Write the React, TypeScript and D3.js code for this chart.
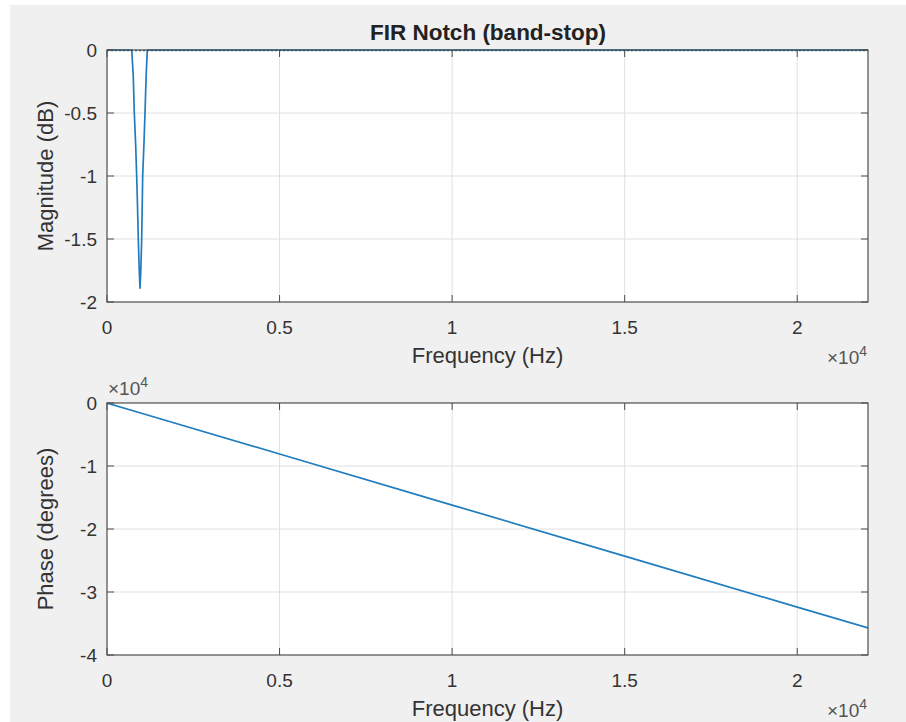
import React from "react";
import * as d3 from "d3";

// Magnitude response (frequency Hz, dB)
const magFreq = [0, 300, 600, 716, 760, 791, 830, 860, 885, 907, 935, 956, 980, 1005, 1034, 1070, 1101, 1135, 1168, 1300, 3000, 8000, 15000, 22050];
const magDb = [0, 0, 0, 0, -0.2, -0.5, -0.75, -1.0, -1.25, -1.5, -1.75, -1.89, -1.75, -1.5, -1.0, -0.75, -0.5, -0.2, 0, 0, 0, 0, 0, 0];

// Phase response (frequency Hz, degrees)
const phaseFreq = [0, 1000, 5000, 10000, 15000, 20000, 22050];
const phaseDeg = [0, -1620, -8100, -16200, -24300, -32400, -35700];

const xTicks = [0, 5000, 10000, 15000, 20000];
const xTickLabels = ["0", "0.5", "1", "1.5", "2"];
const magTicks = [0, -0.5, -1, -1.5, -2];
const magTickLabels = ["0", "-0.5", "-1", "-1.5", "-2"];
const phaseTicks = [0, -10000, -20000, -30000, -40000];
const phaseTickLabels = ["0", "-1", "-2", "-3", "-4"];

const W = 906;
const H = 722;
const L = 107;
const R = 868;
const TOP1 = 50;
const BOT1 = 302;
const TOP2 = 403;
const BOT2 = 655;

const TEXT = "#333333";
const AXIS = "#4d4d4d";
const GRID = "#e0e0e0";
const LINE = "#1f7dbf";
const FONT = "'Liberation Sans', Arial, Helvetica, sans-serif";

function Panel({ top, bottom, yDomain, yTicks, yLabels, ylabel, xs, ys, dotted }: any) {
  const x = d3.scaleLinear().domain([0, 22050]).range([L, R]);
  const y = d3.scaleLinear().domain(yDomain).range([bottom, top]);
  const line = d3.line<number>().x((_, i) => x(xs[i])).y((d) => y(d));
  const tl = 7;
  return (
    <g>
      <rect x={L} y={top} width={R - L} height={bottom - top} fill="#ffffff" />
      {xTicks.slice(1).map((t) => (
        <line key={"gx" + t} x1={x(t)} x2={x(t)} y1={top} y2={bottom} stroke={GRID} strokeWidth={1} />
      ))}
      {yTicks.slice(1, -1).map((t: number) => (
        <line key={"gy" + t} x1={L} x2={R} y1={y(t)} y2={y(t)} stroke={GRID} strokeWidth={1} />
      ))}
      <clipPath id={"clip" + top}>
        <rect x={L} y={top - 2} width={R - L} height={bottom - top + 4} />
      </clipPath>
      <g clipPath={`url(#clip${top})`}>
        <path d={line(ys) || ""} fill="none" stroke={LINE} strokeWidth={1.7} strokeLinejoin="round" />
        {dotted && (
          <line x1={L} x2={R} y1={y(0) + 0.5} y2={y(0) + 0.5} stroke="#2a5f8a" strokeWidth={1.5} strokeDasharray="2,2" />
        )}
      </g>
      <rect x={L} y={top} width={R - L} height={bottom - top} fill="none" stroke={AXIS} strokeWidth={1.2} />
      {xTicks.map((t, i) => (
        <g key={"tx" + t}>
          <line x1={x(t)} x2={x(t)} y1={bottom} y2={bottom - tl} stroke={AXIS} />
          <line x1={x(t)} x2={x(t)} y1={top} y2={top + tl} stroke={AXIS} />
          <text x={x(t)} y={bottom + 32} textAnchor="middle" fontSize={19} fill={TEXT} fontFamily={FONT}>
            {xTickLabels[i]}
          </text>
        </g>
      ))}
      {yTicks.map((t: number, i: number) => (
        <g key={"ty" + t}>
          <line x1={L} x2={L + tl} y1={y(t)} y2={y(t)} stroke={AXIS} />
          <line x1={R} x2={R - tl} y1={y(t)} y2={y(t)} stroke={AXIS} />
          <text x={L - 10} y={y(t) + 7} textAnchor="end" fontSize={19} fill={TEXT} fontFamily={FONT}>
            {yLabels[i]}
          </text>
        </g>
      ))}
      <text x={(L + R) / 2} y={bottom + 61} textAnchor="middle" fontSize={22} fill={TEXT} fontFamily={FONT}>
        Frequency (Hz)
      </text>
      <text x={R - 1} y={bottom + 62} textAnchor="end" fontSize={19} fill="#555555" fontFamily={FONT}>
        ×10<tspan dy={-8} fontSize={14}>4</tspan>
      </text>
      <text
        transform={`translate(${53},${(top + bottom) / 2}) rotate(-90)`}
        textAnchor="middle"
        fontSize={22}
        fill={TEXT}
        fontFamily={FONT}
      >
        {ylabel}
      </text>
    </g>
  );
}

export default function App() {
  return (
    <svg width={W} height={H} style={{ position: "absolute", left: 0, top: 0, display: "block" }}>
      <rect x={0} y={0} width={W} height={H} fill="#ffffff" />
      <rect x={10} y={5} width={W - 10} height={H - 5} fill="#f0f0f0" />
      <text x={488} y={40} textAnchor="middle" fontSize={22.5} fontWeight="bold" fill="#222222" fontFamily={FONT}>
        FIR Notch (band-stop)
      </text>
      <Panel
        top={TOP1}
        bottom={BOT1}
        yDomain={[-2, 0]}
        yTicks={magTicks}
        yLabels={magTickLabels}
        ylabel="Magnitude (dB)"
        xs={magFreq}
        ys={magDb}
        dotted
      />
      <Panel
        top={TOP2}
        bottom={BOT2}
        yDomain={[-40000, 0]}
        yTicks={phaseTicks}
        yLabels={phaseTickLabels}
        ylabel="Phase (degrees)"
        xs={phaseFreq}
        ys={phaseDeg}
      />
      <text x={108} y={395} fontSize={19} fill="#555555" fontFamily={FONT}>
        ×10<tspan dy={-8} fontSize={14}>4</tspan>
      </text>
    </svg>
  );
}
